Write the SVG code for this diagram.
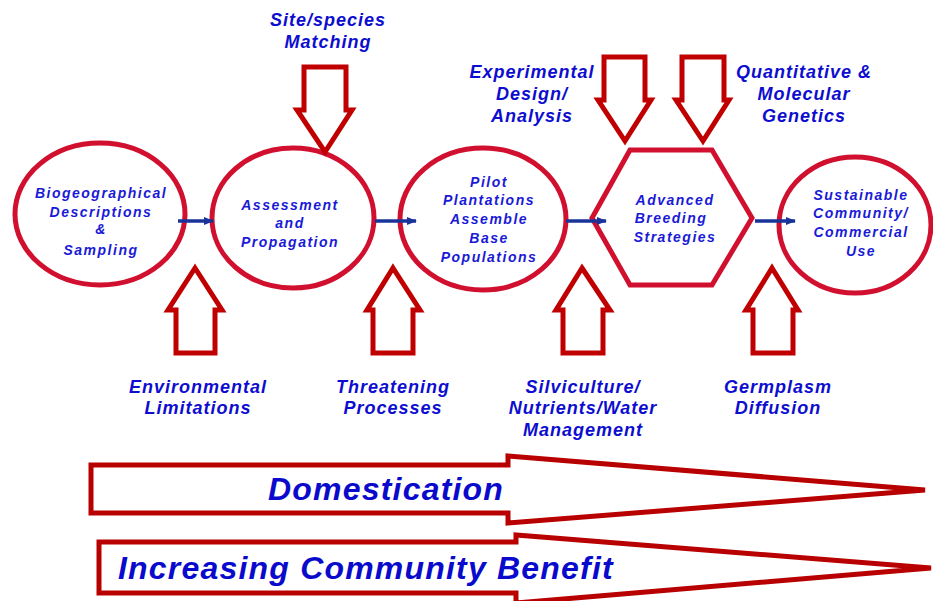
<svg xmlns="http://www.w3.org/2000/svg" width="933" height="601" viewBox="0 0 933 601">
  <defs>
    <style>
      .stage { fill: #ffffff; stroke: #d0102e; stroke-width: 5; }
      .input { fill: #ffffff; stroke: #c00000; stroke-width: 5; stroke-linejoin: miter; }
      .trend { fill: #ffffff; stroke: #b80000; stroke-width: 5; stroke-linejoin: miter; }
      .flow { stroke: #1a3399; stroke-width: 3.5; fill: none; }
      .node-text { font-family: "Liberation Sans", Arial, sans-serif; font-size: 14px; font-weight: bold; font-style: italic; fill: #1a1ad6; letter-spacing: 1.5px; text-anchor: middle; }
      .label { font-family: "Liberation Sans", Arial, sans-serif; font-size: 18px; font-weight: bold; font-style: italic; fill: #0d0dd0; letter-spacing: 1px; text-anchor: middle; }
      .big { font-family: "Liberation Sans", Arial, sans-serif; font-size: 32px; font-weight: bold; font-style: italic; fill: #0a0acc; letter-spacing: 1.2px; }
    </style>
    <marker id="head" viewBox="0 0 10 8" refX="9" refY="4" markerWidth="10" markerHeight="8" orient="auto" markerUnits="userSpaceOnUse">
      <path d="M0,0 L10,4 L0,8 Z" fill="#1a3399"/>
    </marker>
  </defs>

  <rect width="933" height="601" fill="#ffffff"/>

  <!-- stages -->
  <g id="node-biogeographical">
    <ellipse class="stage" cx="100" cy="214" rx="85" ry="71"/>
    <text class="node-text" x="101" y="198">Biogeographical</text>
    <text class="node-text" x="101" y="217">Descriptions</text>
    <text class="node-text" x="101" y="234">&amp;</text>
    <text class="node-text" x="101" y="255">Sampling</text>
  </g>

  <g id="node-assessment">
    <ellipse class="stage" cx="293" cy="218" rx="81" ry="70"/>
    <text class="node-text" x="290" y="210">Assessment</text>
    <text class="node-text" x="290" y="228">and</text>
    <text class="node-text" x="290" y="247">Propagation</text>
  </g>

  <g id="node-pilot">
    <ellipse class="stage" cx="483" cy="219" rx="83" ry="71"/>
    <text class="node-text" x="489" y="187">Pilot</text>
    <text class="node-text" x="489" y="205">Plantations</text>
    <text class="node-text" x="489" y="224">Assemble</text>
    <text class="node-text" x="489" y="243">Base</text>
    <text class="node-text" x="489" y="262">Populations</text>
  </g>

  <g id="node-breeding">
    <polygon class="stage" points="592,218 630,150 712,150 752,218 712,285 630,285"/>
    <text class="node-text" x="675" y="205">Advanced</text>
    <text class="node-text" x="671" y="223">Breeding</text>
    <text class="node-text" x="675" y="242">Strategies</text>
  </g>

  <g id="node-sustainable">
    <ellipse class="stage" cx="855" cy="225" rx="76" ry="68"/>
    <text class="node-text" x="861" y="200">Sustainable</text>
    <text class="node-text" x="861" y="218">Community/</text>
    <text class="node-text" x="861" y="237">Commercial</text>
    <text class="node-text" x="861" y="256">Use</text>
  </g>

  <!-- flow between stages, drawn over the outlines -->
  <g id="connectors">
    <line class="flow" x1="178" y1="221" x2="213" y2="221" marker-end="url(#head)"/>
    <line class="flow" x1="375" y1="221" x2="416" y2="221" marker-end="url(#head)"/>
    <line class="flow" x1="566" y1="221" x2="606" y2="221" marker-end="url(#head)"/>
    <line class="flow" x1="755" y1="221" x2="795" y2="221" marker-end="url(#head)"/>
  </g>

  <!-- inputs from above -->
  <g id="input-site-species">
    <polygon class="input" points="304,67 346,67 346,110 352,110 325,152 297,110 304,110"/>
    <text class="label" x="328" y="26">Site/species</text>
    <text class="label" x="328" y="48">Matching</text>
  </g>

  <g id="input-experimental">
    <polygon class="input" points="604,57 645,57 645,100 651,100 625,141 598,100 604,100"/>
    <text class="label" x="532" y="78">Experimental</text>
    <text class="label" x="532" y="100">Design/</text>
    <text class="label" x="532" y="122">Analysis</text>
  </g>

  <g id="input-genetics">
    <polygon class="input" points="682,57 724,57 724,100 729,100 703,141 676,100 682,100"/>
    <text class="label" x="804" y="78">Quantitative &amp;</text>
    <text class="label" x="804" y="100">Molecular</text>
    <text class="label" x="804" y="122">Genetics</text>
  </g>

  <!-- inputs from below -->
  <g id="input-environmental">
    <polygon class="input" points="195,268 222,310 215,310 215,353 176,353 176,310 168,310"/>
    <text class="label" x="198" y="393">Environmental</text>
    <text class="label" x="198" y="414">Limitations</text>
  </g>

  <g id="input-threatening">
    <polygon class="input" points="393,268 420,310 413,310 413,353 373,353 373,310 367,310"/>
    <text class="label" x="393" y="393">Threatening</text>
    <text class="label" x="393" y="414">Processes</text>
  </g>

  <g id="input-silviculture">
    <polygon class="input" points="582,268 610,310 603,310 603,353 563,353 563,310 556,310"/>
    <text class="label" x="583" y="393">Silviculture/</text>
    <text class="label" x="583" y="414">Nutrients/Water</text>
    <text class="label" x="583" y="436">Management</text>
  </g>

  <g id="input-germplasm">
    <polygon class="input" points="772,268 798,310 793,310 793,353 753,353 753,310 746,310"/>
    <text class="label" x="778" y="393">Germplasm</text>
    <text class="label" x="778" y="414">Diffusion</text>
  </g>

  <!-- overall trends -->
  <g id="trend-domestication">
    <polygon class="trend" points="91,465 508,465 508,456 925,490 508,523 508,513 91,513"/>
    <text class="big" x="268" y="500">Domestication</text>
  </g>

  <g id="trend-community">
    <polygon class="trend" points="99,542 516,542 516,535 931,568 516,603 516,593 99,593"/>
    <text class="big" x="118" y="579">Increasing Community Benefit</text>
  </g>
</svg>
